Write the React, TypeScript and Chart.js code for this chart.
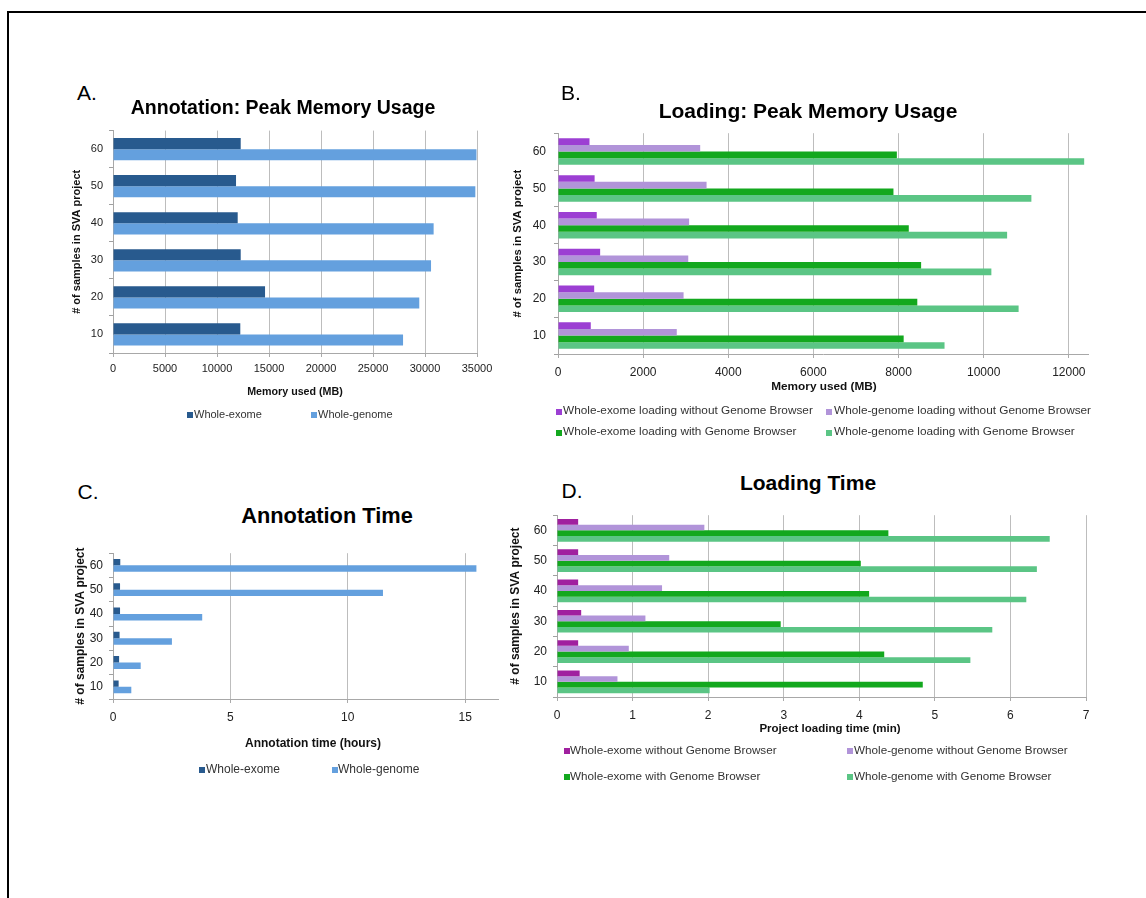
import React, { useEffect, useRef } from 'react';
import { Chart, registerables } from 'chart.js';

Chart.register(...registerables);

const FONT = "'Liberation Sans', Arial, Helvetica, sans-serif";

// ---------- data ----------
const categories = ['60', '50', '40', '30', '20', '10'];

// A. Annotation: Peak Memory Usage (MB)
const annMemExome = [12280, 11830, 11990, 12280, 14620, 12240];
const annMemGenome = [34950, 34840, 30830, 30580, 29450, 27890];

// B. Loading: Peak Memory Usage (MB)
const loadMemExomeNoGB = [740, 860, 910, 990, 850, 770];
const loadMemGenomeNoGB = [3340, 3490, 3080, 3060, 2950, 2790];
const loadMemExomeGB = [7960, 7880, 8240, 8530, 8440, 8120];
const loadMemGenomeGB = [12360, 11120, 10550, 10180, 10820, 9080];

// C. Annotation Time (hours)
const annTimeExome = [0.31, 0.3, 0.3, 0.28, 0.26, 0.24];
const annTimeGenome = [15.48, 11.5, 3.8, 2.51, 1.18, 0.78];

// D. Loading Time (min)
const loadTimeExomeNoGB = [0.28, 0.28, 0.28, 0.32, 0.28, 0.3];
const loadTimeGenomeNoGB = [1.95, 1.485, 1.39, 1.17, 0.95, 0.8];
const loadTimeExomeGB = [4.385, 4.02, 4.13, 2.96, 4.33, 4.84];
const loadTimeGenomeGB = [6.52, 6.35, 6.21, 5.76, 5.47, 2.02];

// axis extents and tick values
const axisA = { max: 35000, ticks: [0, 5000, 10000, 15000, 20000, 25000, 30000, 35000] };
const axisB = { max: 12450, ticks: [0, 2000, 4000, 6000, 8000, 10000, 12000] };
const axisC = { max: 16.4, ticks: [0, 5, 10, 15] };
const axisD = { max: 7, ticks: [0, 1, 2, 3, 4, 5, 6, 7] };

// ---------- colours ----------
const C_DARK_BLUE = '#285A8E';
const C_LIGHT_BLUE = '#64A0DE';
const C_PURPLE = '#9C3FD3';
const C_MAGENTA = '#A0209F';
const C_LIGHT_PURPLE = '#B194D9';
const C_GREEN = '#13A81E';
const C_LIGHT_GREEN = '#5BC585';

type Series = { label: string; data: number[]; color: string };
type Spec = {
  box: { left: number; top: number; width: number; height: number };
  area: { left: number; top: number; right: number; bottom: number };
  axis: { max: number; ticks: number[] };
  tickSize: number;
  yTickRight: number;
  xTickY: number;
  xTitle: string;
  xTitleSize: number;
  xTitleX: number;
  xTitleY: number;
  yTitle: string;
  yTitleSize: number;
  yTitleX: number;
  catPct: number;
  series: Series[];
};

const specs: Spec[] = [
  {
    box: { left: 60, top: 118, width: 440, height: 282 },
    area: { left: 113, top: 127, right: 477, bottom: 353 },
    axis: axisA,
    tickSize: 11,
    yTickRight: 103,
    xTickY: 369,
    xTitle: 'Memory used (MB)',
    xTitleSize: 10.7,
    xTitleX: 295,
    xTitleY: 391,
    yTitle: '# of samples in SVA project',
    yTitleSize: 11,
    yTitleX: 77,
    catPct: 0.6,
    series: [
      { label: 'Whole-exome', data: annMemExome, color: C_DARK_BLUE },
      { label: 'Whole-genome', data: annMemGenome, color: C_LIGHT_BLUE },
    ],
  },
  {
    box: { left: 505, top: 118, width: 600, height: 282 },
    area: { left: 558, top: 128, right: 1088, bottom: 354 },
    axis: axisB,
    tickSize: 12,
    yTickRight: 546,
    xTickY: 373,
    xTitle: 'Memory used (MB)',
    xTitleSize: 11.8,
    xTitleX: 824,
    xTitleY: 387,
    yTitle: '# of samples in SVA project',
    yTitleSize: 11.3,
    yTitleX: 518,
    catPct: 0.72,
    series: [
      { label: 'Whole-exome loading without Genome Browser', data: loadMemExomeNoGB, color: C_PURPLE },
      { label: 'Whole-genome loading without Genome Browser', data: loadMemGenomeNoGB, color: C_LIGHT_PURPLE },
      { label: 'Whole-exome loading with Genome Browser', data: loadMemExomeGB, color: C_GREEN },
      { label: 'Whole-genome loading with Genome Browser', data: loadMemGenomeGB, color: C_LIGHT_GREEN },
    ],
  },
  {
    box: { left: 60, top: 540, width: 445, height: 215 },
    area: { left: 113, top: 548, right: 498, bottom: 699 },
    axis: axisC,
    tickSize: 12,
    yTickRight: 103,
    xTickY: 718,
    xTitle: 'Annotation time (hours)',
    xTitleSize: 12,
    xTitleX: 313,
    xTitleY: 743,
    yTitle: '# of samples in SVA project',
    yTitleSize: 12,
    yTitleX: 81,
    catPct: 0.53,
    series: [
      { label: 'Whole-exome', data: annTimeExome, color: C_DARK_BLUE },
      { label: 'Whole-genome', data: annTimeGenome, color: C_LIGHT_BLUE },
    ],
  },
  {
    box: { left: 505, top: 502, width: 600, height: 238 },
    area: { left: 557, top: 510, right: 1086, bottom: 697 },
    axis: axisD,
    tickSize: 12,
    yTickRight: 547,
    xTickY: 716,
    xTitle: 'Project loading time (min)',
    xTitleSize: 11.5,
    xTitleX: 830,
    xTitleY: 729,
    yTitle: '# of samples in SVA project',
    yTitleSize: 12,
    yTitleX: 516,
    catPct: 0.75,
    series: [
      { label: 'Whole-exome without Genome Browser', data: loadTimeExomeNoGB, color: C_MAGENTA },
      { label: 'Whole-genome without Genome Browser', data: loadTimeGenomeNoGB, color: C_LIGHT_PURPLE },
      { label: 'Whole-exome with Genome Browser', data: loadTimeExomeGB, color: C_GREEN },
      { label: 'Whole-genome with Genome Browser', data: loadTimeGenomeGB, color: C_LIGHT_GREEN },
    ],
  },
];

function buildConfig(s: Spec): any {
  const b = s.box;
  const a = s.area;
  const TL = 4;
  const padTop = a.top - b.top;
  const padRight = b.left + b.width - a.right;
  const yWidth = a.left - b.left;
  const xHeight = b.top + b.height - a.bottom;
  const tickLH = s.tickSize * 1.2;
  const yTickPad = a.left - TL - s.yTickRight;
  const xTickPad = s.xTickY - a.bottom - TL - tickLH / 2;
  const yTitleLH = s.yTitleSize * 1.2;
  const yTitlePad = s.yTitleX - b.left - yTitleLH / 2;
  const tickValues = s.axis.ticks;

  return {
    type: 'bar',
    data: {
      labels: categories,
      datasets: s.series.map((d) => ({
        label: d.label,
        data: d.data,
        backgroundColor: d.color,
        borderWidth: 0,
        barPercentage: 1,
        categoryPercentage: s.catPct,
      })),
    },
    options: {
      indexAxis: 'y',
      animation: false,
      responsive: false,
      maintainAspectRatio: false,
      devicePixelRatio: 1,
      layout: { padding: { top: padTop, right: padRight, left: 0, bottom: 0 } },
      plugins: {
        legend: { display: false },
        tooltip: { enabled: false },
        title: { display: false },
      },
      scales: {
        x: {
          type: 'linear',
          min: 0,
          max: s.axis.max,
          afterFit: (sc: any) => {
            sc.height = xHeight;
          },
          afterBuildTicks: (sc: any) => {
            sc.ticks = tickValues.map((v) => ({ value: v }));
          },
          ticks: {
            color: '#222',
            padding: xTickPad,
            maxRotation: 0,
            minRotation: 0,
            autoSkip: false,
            font: { family: FONT, size: s.tickSize },
            callback: (v: any) => String(v),
          },
          grid: {
            color: '#BDBDBD',
            lineWidth: 1,
            drawTicks: true,
            tickLength: TL,
            tickColor: '#AAAAAA',
          },
          border: { display: true, color: '#A8A8A8', width: 1 },
          title: { display: false },
        },
        y: {
          type: 'category',
          offset: true,
          afterFit: (sc: any) => {
            sc.width = yWidth;
          },
          ticks: {
            color: '#222',
            padding: yTickPad,
            font: { family: FONT, size: s.tickSize },
          },
          grid: {
            offset: true,
            drawOnChartArea: false,
            drawTicks: true,
            tickLength: TL,
            color: '#A0A0A0',
          },
          border: { display: true, color: '#A8A8A8', width: 1 },
          title: {
            display: true,
            text: s.yTitle,
            color: '#111',
            font: { family: FONT, size: s.yTitleSize, weight: 'bold' },
            padding: { top: yTitlePad, bottom: 0 },
          },
        },
      },
    },
  };
}

type LegendItem = { sx: number; tx: number; y: number; text: string; color: string; size: number };

const legendItems: LegendItem[] = [
  { sx: 187, tx: 194, y: 414, text: 'Whole-exome', color: C_DARK_BLUE, size: 11 },
  { sx: 311, tx: 318, y: 414, text: 'Whole-genome', color: C_LIGHT_BLUE, size: 11 },
  { sx: 556, tx: 563, y: 411, text: 'Whole-exome loading without Genome Browser', color: C_PURPLE, size: 11.8 },
  { sx: 826, tx: 834, y: 411, text: 'Whole-genome loading without Genome Browser', color: C_LIGHT_PURPLE, size: 11.8 },
  { sx: 556, tx: 563, y: 432, text: 'Whole-exome loading with Genome Browser', color: C_GREEN, size: 11.8 },
  { sx: 826, tx: 834, y: 432, text: 'Whole-genome loading with Genome Browser', color: C_LIGHT_GREEN, size: 11.8 },
  { sx: 199, tx: 206, y: 769, text: 'Whole-exome', color: C_DARK_BLUE, size: 12 },
  { sx: 332, tx: 338, y: 769, text: 'Whole-genome', color: C_LIGHT_BLUE, size: 12 },
  { sx: 564, tx: 570, y: 750, text: 'Whole-exome without Genome Browser', color: C_MAGENTA, size: 11.7 },
  { sx: 847, tx: 854, y: 750, text: 'Whole-genome without Genome Browser', color: C_LIGHT_PURPLE, size: 11.7 },
  { sx: 564, tx: 570, y: 776, text: 'Whole-exome with Genome Browser', color: C_GREEN, size: 11.7 },
  { sx: 847, tx: 854, y: 776, text: 'Whole-genome with Genome Browser', color: C_LIGHT_GREEN, size: 11.7 },
];

type Label = { x: number; y: number; text: string; size: number; bold: boolean };
const labels: Label[] = [
  { x: 87, y: 92, text: 'A.', size: 21, bold: false },
  { x: 283, y: 108, text: 'Annotation: Peak Memory Usage', size: 19.5, bold: true },
  { x: 571, y: 92, text: 'B.', size: 21, bold: false },
  { x: 808, y: 110, text: 'Loading: Peak Memory Usage', size: 21, bold: true },
  { x: 88, y: 491, text: 'C.', size: 21, bold: false },
  { x: 327, y: 516, text: 'Annotation Time', size: 21.8, bold: true },
  { x: 572, y: 490, text: 'D.', size: 21, bold: false },
  { x: 808, y: 482, text: 'Loading Time', size: 21, bold: true },
];

function Panel({ spec }: { spec: Spec }) {
  const ref = useRef<HTMLCanvasElement | null>(null);
  useEffect(() => {
    if (!ref.current) return;
    const chart = new Chart(ref.current, buildConfig(spec));
    return () => chart.destroy();
  }, [spec]);
  const b = spec.box;
  return (
    <>
      <canvas
        ref={ref}
        width={b.width}
        height={b.height}
        style={{ position: 'absolute', left: b.left, top: b.top, width: b.width, height: b.height }}
      />
      <div
        style={{
          position: 'absolute',
          left: spec.xTitleX,
          top: spec.xTitleY,
          transform: 'translate(-50%, -50%)',
          fontSize: spec.xTitleSize,
          fontWeight: 'bold',
          lineHeight: 1,
          whiteSpace: 'nowrap',
          color: '#111',
        }}
      >
        {spec.xTitle}
      </div>
    </>
  );
}

export default function App() {
  return (
    <div
      style={{
        position: 'absolute',
        left: 0,
        top: 0,
        width: 1146,
        height: 898,
        background: '#fff',
        overflow: 'hidden',
        fontFamily: FONT,
      }}
    >
      <div
        style={{
          position: 'absolute',
          left: 7,
          top: 11,
          width: 1146 - 7,
          height: 898 - 11,
          borderTop: '2px solid #000',
          borderLeft: '2px solid #000',
          boxSizing: 'border-box',
        }}
      />
      {specs.map((s, i) => (
        <Panel key={i} spec={s} />
      ))}
      {labels.map((l, i) => (
        <div
          key={'l' + i}
          style={{
            position: 'absolute',
            left: l.x,
            top: l.y,
            transform: 'translate(-50%, -50%)',
            fontSize: l.size,
            fontWeight: l.bold ? 'bold' : 'normal',
            lineHeight: 1,
            whiteSpace: 'nowrap',
            color: '#000',
          }}
        >
          {l.text}
        </div>
      ))}
      {legendItems.map((it, i) => (
        <React.Fragment key={'g' + i}>
          <div
            style={{
              position: 'absolute',
              left: it.sx,
              top: it.y - 2,
              width: 6,
              height: 6,
              background: it.color,
            }}
          />
          <div
            style={{
              position: 'absolute',
              left: it.tx,
              top: it.y,
              transform: 'translateY(-50%)',
              fontSize: it.size,
              lineHeight: 1,
              whiteSpace: 'nowrap',
              color: '#333',
            }}
          >
            {it.text}
          </div>
        </React.Fragment>
      ))}
    </div>
  );
}
